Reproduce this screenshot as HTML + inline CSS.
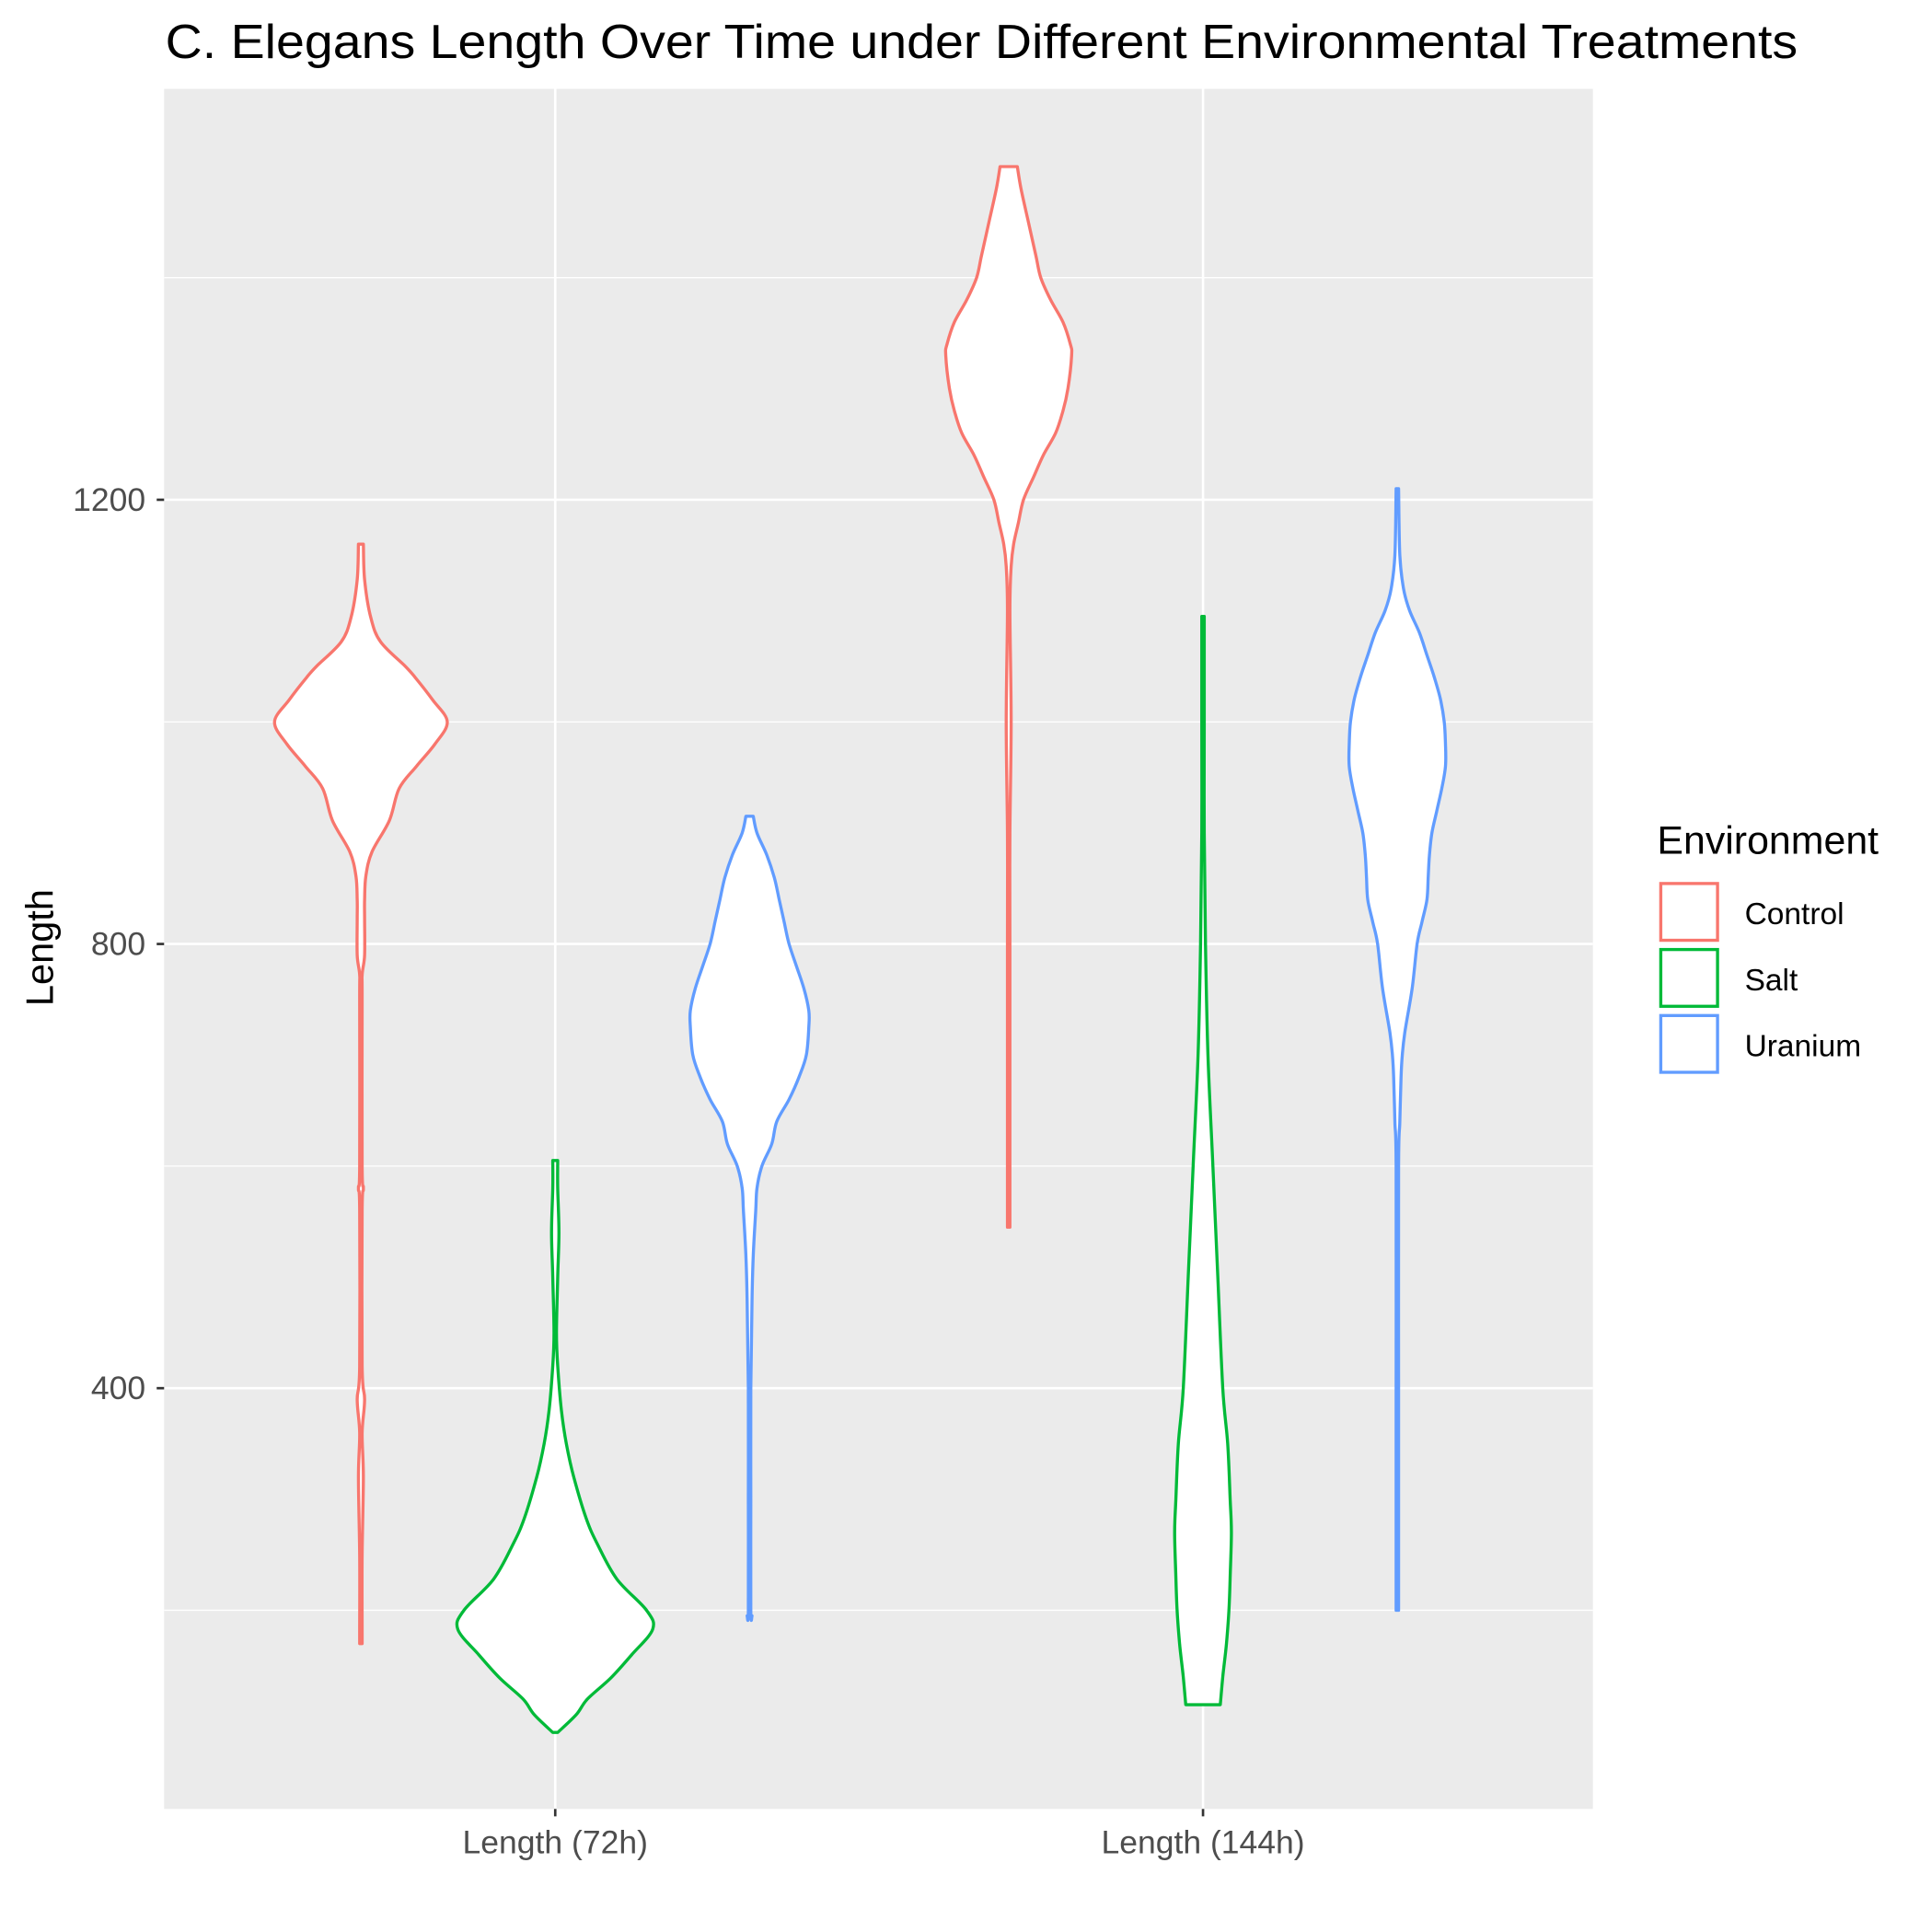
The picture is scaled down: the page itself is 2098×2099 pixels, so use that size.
<!DOCTYPE html>
<html><head><meta charset="utf-8"><style>html,body{margin:0;padding:0;background:#fff}svg{display:block}text{font-family:"Liberation Sans",sans-serif}</style></head>
<body>
<svg id="chart" width="2098" height="2099" viewBox="0 0 1565 1565.7" xmlns="http://www.w3.org/2000/svg">
<rect width="1565" height="1566" fill="#fff"/>
<text x="134" y="47" font-size="39" textLength="1323" lengthAdjust="spacingAndGlyphs" fill="#000">C. Elegans Length Over Time under Different Environmental Treatments</text>
<rect x="133" y="72" width="1158" height="1394" fill="#ebebeb"/>
<g id="grid"></g>
<g id="violins"></g>
<g id="axes"></g>
<text transform="translate(43,768) rotate(-90)" text-anchor="middle" font-size="31" fill="#000">Length</text>
<g>
<text x="1343" y="692" font-size="32" fill="#000">Environment</text>
<g id="legend-items"></g>
</g>
</svg>
<script>
const categories = ["Length (72h)", "Length (144h)"];
const environments = ["Control", "Salt", "Uranium"];
const colors = ["#F8766D", "#00BA38", "#619CFF"];
const yTicks = [400, 800, 1200];
const yMinor = [200, 600, 1000, 1400];
// density profiles: [length value, half-width]
const control72 = [[170,1],[180,1],[250,1],[320,2],[360,1],[390,3],[420,1],[560,1],[580,2],[600,1],[750,1],[772,1],[790,3],[822,3],[840,3],[861,4],[883,9],[911,23],[940,31],[960,45],[980,60],[1000,70],[1020,58],[1040,44],[1050,36],[1072,16],[1094,8],[1128,3],[1160,2]];
const salt72 = [[90,2],[106,17],[120,26],[139,45],[160,62],[183,79],[200,74],[228,50],[260,34],[283,25],[320,15],[350,9],[380,5],[420,2],[450,1],[500,2],[540,3],[580,2],[605,2]];
const uranium72 = [[195,2],[200,1],[300,1],[400,1],[480,2],[520,3],[560,5],[580,6],[600,10],[620,18],[640,22],[660,32],[680,40],[700,46],[725,48],[740,48],[760,44],[780,38],[800,32],[820,28],[840,24],[860,20],[880,14],[900,6],[915,3]];
const control144 = [[545,1],[600,1],[800,1],[900,1],[1000,2],[1100,1],[1140,2],[1160,4],[1180,8],[1200,12],[1220,20],[1240,28],[1260,38],[1280,44],[1300,48],[1330,51],[1340,50],[1360,44],[1380,34],[1400,26],[1420,22],[1450,16],[1480,10],[1500,7]];
const salt144 = [[115,14],[140,16],[170,19],[200,21],[230,22],[270,23],[300,22],[350,20],[400,16],[500,12],[600,8],[700,4],[800,2],[900,1],[1000,1],[1095,1]];
const uranium144 = [[200,1],[400,1],[600,1],[640,2],[680,3],[700,4],[720,6],[760,12],[800,16],[820,20],[840,24],[860,25],[880,26],[900,28],[920,32],[940,36],[960,39],[980,39],[1000,38],[1020,35],[1040,30],[1060,24],[1080,18],[1100,10],[1120,5],[1150,2],[1210,1]];
const violinData = [[control72, salt72, uranium72],[control144, salt144, uranium144]];

const NS = "http://www.w3.org/2000/svg";
const panel = {x0:133, x1:1291, y0:72, y1:1466};
function yScale(v){ return 1485 - 0.9*v; }
function xScale(ci, ei){ return 450 + ci*525 + (ei-1)*157.5; }
function mk(tag, attrs, parent){ const e=document.createElementNS(NS,tag); for(const k in attrs) e.setAttribute(k, attrs[k]); parent.appendChild(e); return e; }
function smooth(pts){
  let d = 'M'+pts[0][0].toFixed(1)+','+pts[0][1].toFixed(1);
  for(let i=0;i<pts.length-1;i++){
    const p0=pts[Math.max(i-1,0)], p1=pts[i], p2=pts[i+1], p3=pts[Math.min(i+2,pts.length-1)];
    const c1=[p1[0]+(p2[0]-p0[0])/6, p1[1]+(p2[1]-p0[1])/6];
    const c2=[p2[0]-(p3[0]-p1[0])/6, p2[1]-(p3[1]-p1[1])/6];
    d += 'C'+c1[0].toFixed(1)+','+c1[1].toFixed(1)+' '+c2[0].toFixed(1)+','+c2[1].toFixed(1)+' '+p2[0].toFixed(1)+','+p2[1].toFixed(1);
  }
  return d;
}

const grid = document.getElementById('grid');
yMinor.forEach(v=>{
  const l = mk('line',{x1:panel.x0,x2:panel.x1,y1:yScale(v),y2:yScale(v),stroke:'#fff','stroke-width':1},grid);
  
  
});
yTicks.forEach(v=>{
  const l = mk('line',{x1:panel.x0,x2:panel.x1,y1:yScale(v),y2:yScale(v),stroke:'#fff','stroke-width':2},grid);
  
  
});
categories.forEach((c,ci)=>{
  const x = xScale(ci,1);
  const l = mk('line',{x1:x,x2:x,y1:panel.y0,y2:panel.y1,stroke:'#fff','stroke-width':2},grid);
  
  
});

const vg = document.getElementById('violins');
violinData.forEach((grp,ci)=>{
  grp.forEach((prof,ei)=>{
    const cx = xScale(ci,ei);
    const right = prof.map(p=>[cx+p[1], yScale(p[0])]);
    const left = prof.slice().reverse().map(p=>[cx-p[1], yScale(p[0])]);
    const d = smooth(right) + 'L' + smooth(left).slice(1) + 'Z';
    const path = mk('path',{d:d,fill:'#fff',stroke:colors[ei],'stroke-width':2.5,'stroke-linejoin':'round'},vg);
    
    
  });
});

const ax = document.getElementById('axes');
yTicks.forEach(v=>{
  const t = mk('line',{x1:127,x2:133,y1:yScale(v),y2:yScale(v),stroke:'#333','stroke-width':2},ax);
  
  
  const lab = mk('text',{x:118,y:yScale(v)+9,'text-anchor':'end','font-size':26.5,fill:'#4d4d4d'},ax);
  lab.textContent = v;
  
  
});
categories.forEach((c,ci)=>{
  const x = xScale(ci,1);
  const t = mk('line',{x1:x,x2:x,y1:1466,y2:1472,stroke:'#333','stroke-width':2},ax);
  
  
  const lab = mk('text',{x:x,y:1502,'text-anchor':'middle','font-size':26.5,fill:'#4d4d4d'},ax);
  lab.textContent = c;
  
  
});

const lg = document.getElementById('legend-items');
environments.forEach((e,i)=>{
  const y = 715 + i*53.5;
  const r = mk('rect',{x:1346,y:y+1,width:46,height:46,fill:'#fff',stroke:colors[i],'stroke-width':2.5},lg);
  
  
  const t = mk('text',{x:1414,y:y+34,'font-size':25,fill:'#000'},lg);
  t.textContent = e;
  
  
});
</script>
</body></html>
